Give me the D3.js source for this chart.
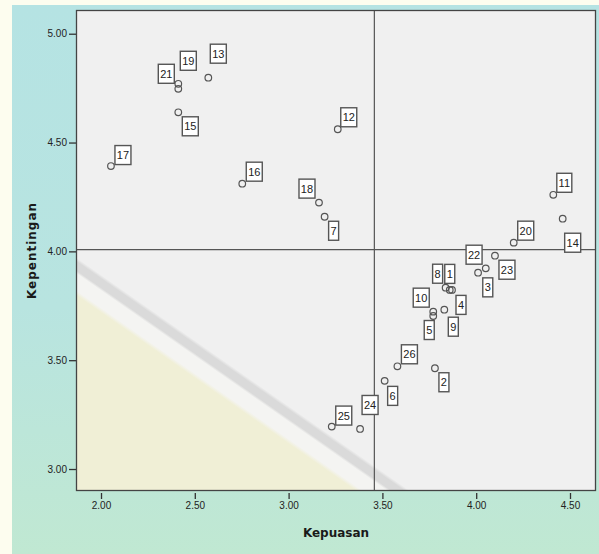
<!DOCTYPE html>
<html>
<head>
<meta charset="utf-8">
<script src="https://cdn.jsdelivr.net/npm/d3@7"></script>
<style>
    html, body { margin: 0; padding: 0; background: #fdfdef; }
    svg { display: block; }
</style>
</head>
<body>
<div id="chart"></div>
<script>
// Case numbers and the two means per case
const caseLabels = ["1", "2", "3", "4", "5", "6", "7", "8", "9", "10", "11", "12", "13",
    "14", "15", "16", "17", "18", "19", "20", "21", "22", "23", "24", "25", "26"];
const kepuasan = [3.859, 3.780, 4.051, 3.871, 3.771, 3.512, 3.192, 3.837, 3.830, 3.771, 4.411, 3.262, 2.572,
    4.461, 2.412, 2.753, 2.053, 3.162, 2.412, 4.200, 2.412, 4.010, 4.100, 3.381, 3.230, 3.580];
const kepentingan = [3.823, 3.463, 3.922, 3.823, 3.703, 3.405, 4.159, 3.833, 3.732, 3.723, 4.260, 4.561, 4.798,
    4.150, 4.639, 4.311, 4.392, 4.224, 4.770, 4.040, 4.747, 3.902, 3.980, 3.184, 3.195, 3.472];
const xTicks = [2.0, 2.5, 3.0, 3.5, 4.0, 4.5];
const yTicks = [3.0, 3.5, 4.0, 4.5, 5.0];

// where SPSS put each case label relative to its marker (px)
const labelShift = [[0, -16], [9, 14], [2, 19], [9, 15], [-4, 14], [8, 15], [9, 14], [-8, -14], [9, 17], [-12, -14],
    [11, -12], [11, -12], [10, -24], [10, 24], [12, 14], [12, -12], [12, -11], [-12, -14], [10, -23], [12, -12],
    [-12, -15], [-4, -18], [12, 14], [10, -24], [12, -11], [12, -12]];

const W = 599, H = 554;
const plot = { left: 76, top: 10, right: 596, bottom: 491 };

const svg = d3.select("#chart").append("svg")
    .attr("width", W)
    .attr("height", H);

const defs = svg.append("defs");

// outer background (teal, greener toward bottom)
const bg = defs.append("linearGradient").attr("id", "bgGrad")
    .attr("x1", 0).attr("y1", 0).attr("x2", 0).attr("y2", 1);
bg.append("stop").attr("offset", 0).attr("stop-color", "#b5e3e3");
bg.append("stop").attr("offset", 0.55).attr("stop-color", "#b8e4e0");
bg.append("stop").attr("offset", 1).attr("stop-color", "#c0e8d2");

// faint watermark in the plot area: yellow lower-left, grey diagonal band
const wm = defs.append("linearGradient").attr("id", "wmGrad")
    .attr("gradientUnits", "userSpaceOnUse")
    .attr("x1", plot.left).attr("y1", plot.bottom)
    .attr("x2", plot.left + 172).attr("y2", plot.bottom - 246);
[[0, "#f0efd6"], [0.535, "#f0efd6"], [0.548, "#f4f4f2"], [0.595, "#f4f4f2"], [0.603, "#dadada"],
 [0.628, "#dadada"], [0.638, "#f0f0f0"], [1, "#f0f0f0"]].forEach(s => {
    wm.append("stop").attr("offset", s[0]).attr("stop-color", s[1]);
});

svg.append("rect")
    .attr("x", 12).attr("y", 5)
    .attr("width", W - 12).attr("height", H - 5)
    .attr("fill", "url(#bgGrad)");

// Scales
const x = d3.scaleLinear().domain([1.8667, 4.6386]).range([plot.left, plot.right]);
const y = d3.scaleLinear().domain([2.899, 5.109]).range([plot.bottom, plot.top]);

svg.append("rect")
    .attr("x", plot.left).attr("y", plot.top)
    .attr("width", plot.right - plot.left).attr("height", plot.bottom - plot.top)
    .attr("fill", "url(#wmGrad)");

// Axes
const xAxis = svg.append("g")
    .attr("transform", `translate(0,${plot.bottom + 2})`)
    .call(d3.axisBottom(x).tickValues(xTicks).tickFormat(d3.format(".2f")).tickSize(6).tickPadding(3));
const yAxis = svg.append("g")
    .attr("transform", `translate(${plot.left},0)`)
    .call(d3.axisLeft(y).tickValues(yTicks).tickFormat(d3.format(".2f")).tickSize(7).tickPadding(2));

[xAxis, yAxis].forEach(a => {
    a.select(".domain").remove();
    a.selectAll(".tick line").attr("stroke", "#333").attr("stroke-width", 1.3);
    a.selectAll(".tick text")
        .attr("fill", "#222")
        .style("font-family", "Arial, 'Liberation Sans', sans-serif")
        .style("font-size", "10px");
});

// Reference lines at the means
const meanX = d3.mean(kepuasan);
const meanY = d3.mean(kepentingan);

svg.append("line")
    .attr("x1", x(meanX)).attr("x2", x(meanX))
    .attr("y1", plot.top).attr("y2", plot.bottom)
    .attr("stroke", "#555").attr("stroke-width", 1.2);
svg.append("line")
    .attr("x1", plot.left).attr("x2", plot.right)
    .attr("y1", y(meanY)).attr("y2", y(meanY))
    .attr("stroke", "#555").attr("stroke-width", 1.2);

// Frame
svg.append("rect")
    .attr("x", plot.left + 0.5).attr("y", plot.top + 0.5)
    .attr("width", plot.right - plot.left - 1).attr("height", plot.bottom - plot.top - 1)
    .attr("fill", "none")
    .attr("stroke", "#444")
    .attr("stroke-width", 1.3);

// Points
const points = caseLabels.map((c, i) => ({
    name: c,
    kx: kepuasan[i],
    ky: kepentingan[i],
    shift: labelShift[i]
}));

svg.append("g").selectAll("circle")
    .data(points)
    .enter()
    .append("circle")
    .attr("cx", d => x(d.kx))
    .attr("cy", d => y(d.ky))
    .attr("r", 3.3)
    .attr("fill", "none")
    .attr("stroke", "#555")
    .attr("stroke-width", 1.2);

// Case labels in boxes
const lab = svg.append("g").selectAll("g")
    .data(points)
    .enter()
    .append("g")
    .attr("transform", d => `translate(${x(d.kx) + d.shift[0]},${y(d.ky) + d.shift[1]})`);

lab.append("rect")
    .attr("fill", "#fff")
    .attr("stroke", "#555")
    .attr("stroke-width", 1.4);

lab.append("text")
    .attr("text-anchor", "middle")
    .attr("dy", "0.36em")
    .attr("fill", "#222")
    .style("font-family", "Arial, 'Liberation Sans', sans-serif")
    .style("font-size", "11px")
    .text(d => d.name);

lab.each(function () {
    const g = d3.select(this);
    const tw = g.select("text").node().getComputedTextLength();
    const bw = Math.round(tw) + 4, bh = 19;
    g.select("rect")
        .attr("x", -bw / 2).attr("y", -bh / 2)
        .attr("width", bw).attr("height", bh);
});

// Axis titles
svg.append("text")
    .attr("x", (plot.left + plot.right) / 2)
    .attr("y", 537)
    .attr("text-anchor", "middle")
    .attr("fill", "#1a1a1a")
    .style("font-family", "'DejaVu Sans', sans-serif")
    .style("font-weight", "bold")
    .style("font-size", "12px")
    .text("Kepuasan");

svg.append("text")
    .attr("transform", `translate(36,${(plot.top + plot.bottom) / 2}) rotate(-90)`)
    .attr("text-anchor", "middle")
    .attr("fill", "#1a1a1a")
    .attr("letter-spacing", "1")
    .style("font-family", "'DejaVu Sans', sans-serif")
    .style("font-weight", "bold")
    .style("font-size", "12px")
    .text("Kepentingan");
</script>
</body>
</html>
